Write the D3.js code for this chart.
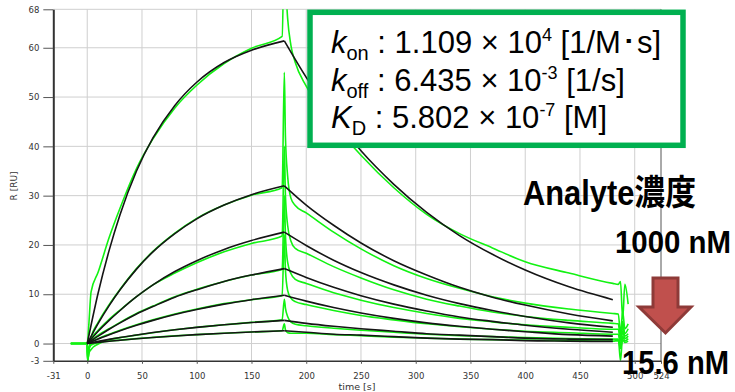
<!DOCTYPE html>
<html>
<head>
<meta charset="utf-8">
<script src="https://cdn.jsdelivr.net/npm/d3@7"></script>
<style>
  body { margin: 0; background: #fff; }
  svg { display: block; }
</style>
</head>
<body>
<svg id="chart"></svg>
<script>
// axis ticks
const xTicks = [-31, 0, 50, 100, 150, 200, 250, 300, 350, 400, 450, 500, 524];
const xGrid = [0, 50, 100, 150, 200, 250, 300, 350, 400, 450, 500];
const yTicks = [-3.5, 0, 10, 20, 30, 40, 50, 60, 67.8];
const yTickLabels = ["-3", "0", "10", "20", "30", "40", "50", "60", "68"];
const yGrid = [0, 10, 20, 30, 40, 50, 60];

// analyte concentrations, nM (top curve first)
const concentrations = [1000, 500, 250, 125, 62.5, 31.25, 15.6];

// fitted curves (black)
const fitAssocTime = [0, 10, 20, 30, 45, 60, 80, 100, 125, 150, 180];
const fitAssocR = [
  [0, 10.3, 18.9, 26.2, 35.0, 41.7, 48.3, 53.0, 57.0, 59.5, 61.4],
  [0, 4.1, 7.7, 10.9, 15.1, 18.6, 22.3, 25.3, 28.1, 30.2, 32.0],
  [0, 2.5, 4.7, 6.7, 9.5, 11.9, 14.6, 16.8, 19.1, 20.9, 22.6],
  [0, 1.5, 2.9, 4.2, 6.0, 7.5, 9.4, 10.9, 12.6, 13.9, 15.2],
  [0, 0.9, 1.8, 2.6, 3.7, 4.7, 5.9, 6.9, 8.0, 8.9, 9.8],
  [0, 0.44, 0.85, 1.23, 1.75, 2.23, 2.79, 3.28, 3.81, 4.26, 4.7],
  [0, 0.24, 0.46, 0.67, 0.96, 1.22, 1.54, 1.81, 2.10, 2.35, 2.6]
];
const fitDissocTime = [180, 200, 225, 250, 280, 310, 340, 370, 400, 440, 480];
const fitDissocR = [
  [61.4, 54.0, 46.0, 39.1, 32.3, 26.6, 21.9, 18.1, 14.9, 11.5, 8.9],
  [32.0, 28.1, 24.0, 20.4, 16.8, 13.9, 11.4, 9.4, 7.8, 6.0, 4.6],
  [22.6, 19.9, 16.9, 14.4, 11.9, 9.8, 8.1, 6.7, 5.5, 4.2, 3.3],
  [15.2, 13.4, 11.4, 9.7, 8.0, 6.6, 5.4, 4.5, 3.7, 2.9, 2.3],
  [9.8, 8.6, 7.3, 6.2, 5.1, 4.2, 3.5, 2.9, 2.4, 1.8, 1.5],
  [4.7, 4.1, 3.5, 3.0, 2.5, 2.0, 1.7, 1.4, 1.1, 0.9, 0.8],
  [2.6, 2.3, 1.9, 1.7, 1.4, 1.1, 0.9, 0.8, 0.6, 0.5, 0.4]
];

// measured sensorgrams (green)
const rawTime = [-15, 0, 0.4, 1.5, 3.5, 10, 20, 30, 45, 60, 80, 100, 125, 150, 178,
  180, 181, 183, 186, 190, 200, 225, 250, 280, 310, 340, 370, 400, 440, 480,
  485, 487, 489, 491, 494];
const rawR = [
  [0, 0, 0.5, 4, 10.5, 14.5, 21.5, 27.5, 35.5, 41.5, 47.8, 52.4, 56.8, 59.9, 62.3,
   80, 74, 66, 60.5, 57, 52.2, 44.6, 38.2, 31.6, 26.2, 22.3, 19.4, 16.6, 14.3, 12.2,
   12.0, 12.6, 5.0, 12.0, 8.0],
  [0, 0, -3.5, -1.5, 1.2, 4.3, 7.9, 11.0, 15.2, 18.7, 22.4, 25.4, 28.1, 30.1, 31.6,
   55, 42, 34, 29.5, 28, 26.5, 22.6, 19.2, 15.8, 13.2, 11.2, 9.5, 8.2, 7.0, 6.1,
   6.0, 2.0, 6.5, 3.0, 4.0],
  [0, 0, -3.0, -1.0, 0.8, 2.7, 4.9, 6.8, 9.5, 11.9, 14.3, 16.4, 18.6, 20.3, 21.8,
   40, 30, 24, 20.8, 19.3, 18.3, 15.6, 13.3, 10.9, 9.0, 7.6, 6.4, 5.5, 4.7, 4.1,
   4.0, 1.0, 4.5, 2.0, 3.0],
  [0, 0, -3.5, -1.5, 0.4, 1.7, 3.0, 4.3, 6.1, 7.6, 9.5, 11.0, 12.6, 13.9, 15.0,
   30, 22, 16.5, 14.2, 13.0, 12.2, 10.3, 8.8, 7.3, 6.1, 5.1, 4.4, 3.8, 3.3, 2.9,
   2.9, 0.5, 3.5, 1.5, 2.0],
  [0, 0, -2.5, -1.0, 0.2, 1.0, 1.9, 2.7, 3.8, 4.8, 6.0, 7.0, 8.1, 8.9, 9.7,
   22, 15, 10.8, 9.2, 8.5, 7.9, 6.7, 5.7, 4.8, 4.0, 3.4, 2.9, 2.5, 2.2, 1.9,
   1.9, -0.5, 2.5, 1.0, 1.5],
  [0, 0, -3.5, -2.0, -1.2, -0.1, 0.8, 1.2, 1.7, 2.2, 2.8, 3.3, 3.8, 4.3, 4.8,
   9, 7.2, 5.5, 4.4, 3.9, 3.6, 3.1, 2.7, 2.3, 1.9, 1.6, 1.4, 1.2, 1.0, 0.9,
   0.9, -3.5, 1.5, 0.5, 1.0],
  [0, 0, -2.0, -1.0, -0.3, 0.2, 0.5, 0.7, 1.0, 1.25, 1.55, 1.8, 2.1, 2.35, 2.6,
   4.0, 2.8, 2.2, 2.1, 2.1, 2.1, 1.8, 1.6, 1.3, 1.1, 0.9, 0.8, 0.7, 0.6, 0.5,
   0.6, -1.0, 0.8, 0.2, 0.5]
];

const WIDTH = 735, HEIGHT = 392;
const plot = { left: 53.3, right: 661, top: 9.3, bottom: 360.8 };

const svg = d3.select("#chart")
  .attr("width", WIDTH)
  .attr("height", HEIGHT);

const x = d3.scaleLinear().domain([-31, 524]).range([plot.left, plot.right]);
const y = d3.scaleLinear().domain([-3.5, 67.8]).range([plot.bottom, plot.top]);

svg.append("defs").append("clipPath").attr("id", "clip")
  .append("rect")
  .attr("x", plot.left).attr("y", plot.top)
  .attr("width", plot.right - plot.left).attr("height", plot.bottom - plot.top);

// grid
const grid = svg.append("g").attr("stroke", "#cfcfcf").attr("stroke-width", 1);
grid.selectAll("line.v").data(xGrid).enter().append("line")
  .attr("x1", d => x(d)).attr("x2", d => x(d))
  .attr("y1", plot.top).attr("y2", plot.bottom);
grid.selectAll("line.h").data(yGrid.concat([67.8])).enter().append("line")
  .attr("x1", plot.left).attr("x2", plot.right)
  .attr("y1", d => y(d)).attr("y2", d => y(d));

// right border
svg.append("line")
  .attr("x1", plot.right).attr("x2", plot.right)
  .attr("y1", plot.top).attr("y2", plot.bottom)
  .attr("stroke", "#555").attr("stroke-width", 1);

// curves
const line = d3.line()
  .x(d => x(d[0]))
  .y(d => y(d[1]))
  .curve(d3.curveMonotoneX);

const curves = svg.append("g").attr("clip-path", "url(#clip)").attr("fill", "none");

curves.selectAll("path.raw")
  .data(rawR)
  .enter().append("path")
  .attr("class", "raw")
  .attr("d", r => line(d3.zip(rawTime, r)))
  .attr("stroke", "#12f212")
  .attr("stroke-width", 1.6);

curves.selectAll("path.assoc")
  .data(fitAssocR)
  .enter().append("path")
  .attr("d", r => line(d3.zip(fitAssocTime, r)))
  .attr("stroke", "#151515")
  .attr("stroke-width", 1.6);

curves.selectAll("path.dissoc")
  .data(fitDissocR)
  .enter().append("path")
  .attr("d", r => line(d3.zip(fitDissocTime, r)))
  .attr("stroke", "#151515")
  .attr("stroke-width", 1.6);

// axes
const tickFont = "DejaVu Sans, Verdana, sans-serif";

const yAxis = svg.append("g")
  .attr("transform", `translate(${plot.left},0)`)
  .call(d3.axisLeft(y).tickValues(yTicks)
    .tickFormat((d, i) => yTickLabels[i])
    .tickSize(10).tickSizeOuter(0).tickPadding(4));
yAxis.select(".domain").attr("stroke", "#333").attr("stroke-width", 2);
yAxis.selectAll(".tick line").attr("stroke", "#555");
yAxis.selectAll("text").attr("font-family", tickFont).attr("font-size", 8.5).attr("fill", "#333");

const xAxis = svg.append("g")
  .attr("transform", `translate(0,${plot.bottom})`)
  .call(d3.axisBottom(x).tickValues(xTicks)
    .tickFormat(d => String(d))
    .tickSize(3).tickSizeOuter(0).tickPadding(9));
xAxis.select(".domain").attr("stroke", "#333").attr("stroke-width", 1.5);
xAxis.selectAll(".tick line").attr("stroke", "#555");
xAxis.selectAll("text").attr("font-family", tickFont).attr("font-size", 8.5).attr("fill", "#333");

svg.append("text")
  .attr("transform", "translate(17,186) rotate(-90)")
  .attr("text-anchor", "middle")
  .attr("font-family", tickFont).attr("font-size", 9).attr("fill", "#333")
  .text("R [RU]");

svg.append("text")
  .attr("x", 357).attr("y", 390)
  .attr("text-anchor", "middle")
  .attr("font-family", tickFont).attr("font-size", 9.5).attr("fill", "#333")
  .text("time [s]");

// rate constants box
svg.append("rect")
  .attr("x", 310).attr("y", 12.3)
  .attr("width", 373).attr("height", 133)
  .attr("fill", "#fff")
  .attr("stroke", "#00b050").attr("stroke-width", 5.5);

const boxFont = "Liberation Sans, Arial, sans-serif";
const boxLines = [
  { sym: "k", sub: "on", mant: " : 1.109 × 10", exp: "4", unit: " [1/M\uFF65s]" },
  { sym: "k", sub: "off", mant: " : 6.435 × 10", exp: "-3", unit: " [1/s]" },
  { sym: "K", sub: "D", mant: " : 5.802 × 10", exp: "-7", unit: " [M]" }
];
boxLines.forEach((l, i) => {
  const t = svg.append("text")
    .attr("x", 331).attr("y", 53 + i * 37.5)
    .attr("font-family", boxFont).attr("font-size", 31).attr("fill", "#000");
  t.append("tspan").attr("font-style", "italic").text(l.sym);
  t.append("tspan").attr("font-size", 20).attr("dy", 7).text(l.sub);
  t.append("tspan").attr("dy", -7).text(l.mant);
  t.append("tspan").attr("font-size", 18).attr("dy", -12).text(l.exp);
  t.append("tspan").attr("dy", 12).text(l.unit);
});

// concentration annotation
const noteFont = "Liberation Sans, Arial, Noto Sans CJK JP, sans-serif";
svg.append("text")
  .attr("x", 523).attr("y", 205)
  .attr("font-family", noteFont).attr("font-weight", "bold").attr("font-size", 35)
  .attr("textLength", 173).attr("lengthAdjust", "spacingAndGlyphs")
  .text("Analyte濃度");

svg.append("text")
  .attr("x", 615).attr("y", 253)
  .attr("font-family", noteFont).attr("font-weight", "bold").attr("font-size", 31)
  .attr("textLength", 116).attr("lengthAdjust", "spacingAndGlyphs")
  .text(concentrations[0] + " nM");

svg.append("path")
  .attr("d", d3.line()([[653, 278], [678, 278], [678, 307], [691, 307], [665.5, 333], [639, 307], [653, 307]]) + "Z")
  .attr("fill", "#c0504d")
  .attr("stroke", "#8e3a38").attr("stroke-width", 3).attr("stroke-linejoin", "miter");

svg.append("text")
  .attr("x", 622).attr("y", 374)
  .attr("font-family", noteFont).attr("font-weight", "bold").attr("font-size", 33)
  .attr("textLength", 107).attr("lengthAdjust", "spacingAndGlyphs")
  .text(concentrations[6] + " nM");
</script>
</body>
</html>
